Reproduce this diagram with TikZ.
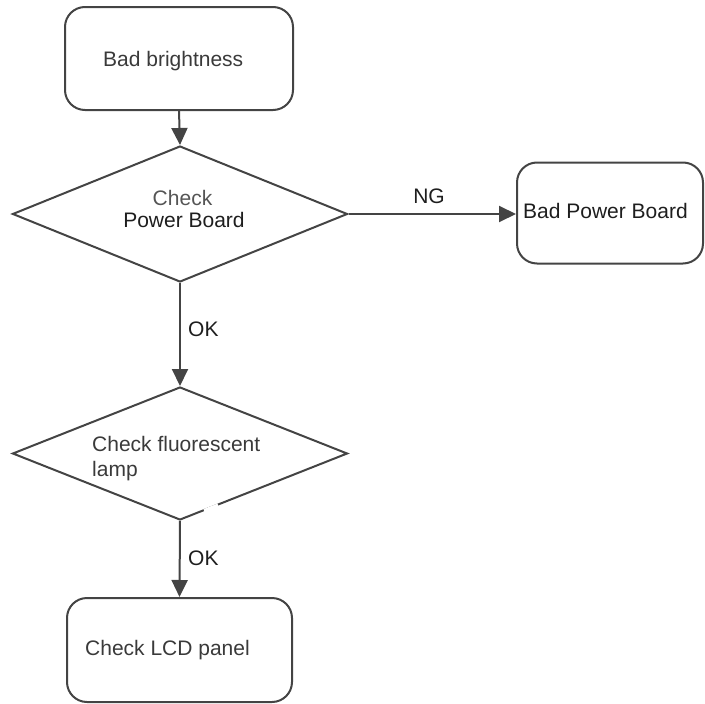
\documentclass[tikz,border=0pt]{standalone}
\usepackage{fontspec}
\setmainfont{Liberation Sans}
\usetikzlibrary{shapes.geometric,arrows.meta}
\definecolor{linec}{HTML}{444444}
\definecolor{txtc}{HTML}{3A3A3A}
\definecolor{darkc}{HTML}{1E1E1E}
\definecolor{lightc}{HTML}{555555}
\tikzset{
  roundbox/.style={draw=linec, line width=2pt, rounded corners=20pt, inner sep=0pt},
  decision/.style={draw=linec, line width=2pt, diamond, inner sep=0pt},
  txt/.style={anchor=base west, inner sep=0pt, font=\fontsize{21}{25}\selectfont, text=txtc},
  flow/.style={draw=linec, line width=2pt, -{Triangle[length=17pt,width=16pt]}},
  lbl/.style={anchor=base west, inner sep=0pt, font=\fontsize{21}{25}\selectfont, text=darkc}
}
\begin{document}
\begin{tikzpicture}[x=1pt,y=-1pt]
\useasboundingbox (0,0) rectangle (705,704);
% shapes
\node[roundbox, minimum width=228pt, minimum height=103pt] (b1) at (179,58.5) {};
\node[decision, minimum width=335pt, minimum height=136pt] (d1) at (180,214) {};
\node[roundbox, minimum width=186pt, minimum height=101pt] (b2) at (610,213) {};
\node[decision, minimum width=335pt, minimum height=133pt] (d2) at (180,453.5) {};
\node[roundbox, minimum width=225pt, minimum height=104pt] (b3) at (179.5,650) {};
% small gap in the lower right edge of the second diamond
\draw[white, line width=3pt] (204,510.5) -- (218,505);
% texts
\node[txt] (t1) at (103,66) {Bad brightness};
\node[txt, anchor=base, text=lightc] (t2) at (182.5,205) {Check};
\node[txt, anchor=base, text=darkc] (t3) at (184,227.5) {Power Board};
\node[txt, text=darkc] (t4) at (523,218.5) {Bad Power Board};
\node[txt] (t5) at (92,451.5) {Check fluorescent};
\node[txt] (t6) at (92,476.5) {lamp};
\node[txt] (t7) at (85,655) {Check LCD panel};
% connectors
\draw[flow] (b1.south) -- (d1.north);
\draw[flow] (d1.east) -- (d1.east -| b2.west);
\draw[flow] (d1.south) -- (d2.north);
\draw[flow] (d2.south) -- (b3.north);
% labels
\node[lbl, anchor=base] (ng) at (429,203) {NG};
\node[lbl] (ok1) at (188,336) {OK};
\node[lbl] (ok2) at (188,565) {OK};
\end{tikzpicture}
\end{document}
